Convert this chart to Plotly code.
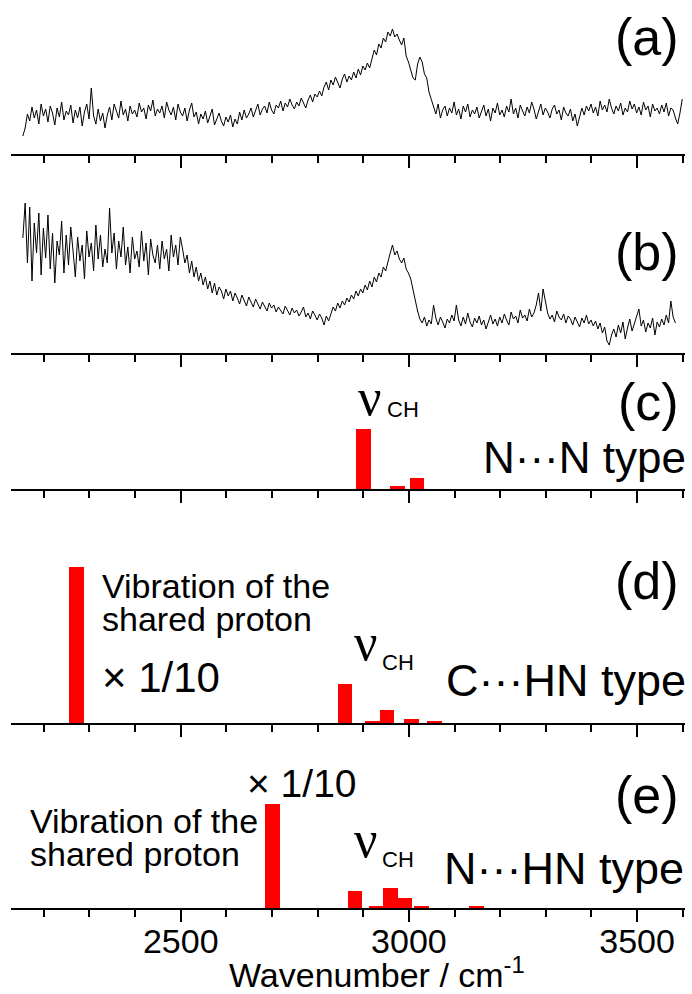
import plotly.graph_objects as go

# ---------------- data ----------------
WN_START = 2154
WN_STEP = 5

spec_a = [18, 26, 40, 33, 47, 36, 44, 30, 50, 38,
          45, 32, 48, 41, 29, 46, 37, 52, 34, 43,
          39, 49, 31, 44, 36, 47, 28, 42, 50, 35,
          66, 38, 30, 45, 33, 41, 26, 39, 47, 34,
          50, 42, 36, 53, 39, 45, 33, 48, 40, 44,
          37, 51, 42, 46, 35, 49, 43, 54, 38, 45,
          41, 48, 36, 52, 44, 39, 47, 34, 50, 42,
          38, 46, 33, 44, 51, 37, 42, 30, 40, 35,
          43, 31, 38, 45, 29, 36, 41, 33, 28, 37,
          32, 39, 27, 35, 30, 42, 34, 44, 36, 40,
          46, 37, 43, 50, 39, 45, 48, 41, 52, 44,
          40, 49, 46, 53, 43, 51, 47, 55, 49, 45,
          52, 48, 56, 50, 46, 54, 59, 52, 60, 57,
          63, 58, 67, 72, 64, 74, 69, 77, 71, 66,
          75, 80, 72, 78, 74, 82, 76, 85, 79, 88,
          84, 91, 86, 95, 104, 99, 110, 106, 116, 112,
          122, 118, 125, 117, 120, 114, 109, 116, 98, 92,
          84, 76, 74, 90, 97, 92, 80, 76, 62, 54,
          46, 40, 50, 36, 44, 48, 38, 46, 41, 52,
          39, 45, 35, 48, 42, 50, 37, 44, 40, 47,
          36, 43, 49, 38, 45, 33, 46, 41, 51, 39,
          44, 37, 48, 42, 55, 40, 46, 36, 49, 43,
          38, 47, 41, 52, 45, 35, 44, 50, 39, 46,
          42, 36, 45, 49, 40, 44, 34, 47, 41, 38,
          45, 33, 40, 28, 37, 46, 39, 48, 43, 50,
          41, 47, 38, 53, 44, 49, 42, 55, 46, 40,
          48, 43, 51, 39, 46, 42, 53, 45, 50, 41,
          47, 39, 52, 44, 48, 37, 50, 43, 46, 40,
          49, 42, 51, 38, 46, 44, 36, 30, 41, 55]

spec_b = [115, 150, 90, 146, 72, 130, 100, 140, 78, 125,
          95, 138, 84, 120, 70, 112, 98, 132, 80, 118,
          88, 126, 102, 76, 116, 92, 108, 74, 122, 96,
          110, 82, 128, 94, 118, 86, 104, 90, 145, 100,
          120, 84, 112, 96, 126, 88, 106, 80, 116, 94,
          102, 86, 122, 92, 110, 78, 114, 98, 90, 108,
          84, 112, 94, 104, 82, 118, 96, 108, 88, 116,
          104, 90, 98, 80, 92, 76, 86, 72, 80, 68,
          76, 64, 72, 60, 70, 58, 66, 62, 54, 64,
          57, 62, 52, 60, 55, 49, 58, 53, 47, 56,
          50, 46, 54, 48, 44, 51, 47, 42, 50, 45,
          48, 41, 46, 43, 39, 47, 42, 38, 45, 40,
          43, 37, 41, 46, 36, 40, 34, 42, 38, 33,
          39, 35, 28, 37, 32, 40, 46, 42, 50, 45,
          52, 48, 55, 51, 58, 54, 62, 57, 64, 60,
          68, 63, 72, 66, 76, 71, 80, 76, 86, 82,
          92, 100, 108, 98, 102, 94, 90, 95, 84, 80,
          74, 62, 50, 42, 34, 30, 36, 27, 33, 29,
          48, 35, 28, 36, 31, 25, 34, 30, 38, 32,
          48, 33, 27, 36, 29, 40, 31, 26, 35, 30,
          37, 28, 33, 24, 31, 38, 29, 34, 27, 36,
          30, 39, 33, 28, 41, 34, 37, 30, 43, 35,
          38, 32, 44, 36, 40, 48, 60, 42, 64, 50,
          40, 34, 38, 31, 42, 36, 33, 39, 30, 37,
          34, 28, 36, 31, 26, 35, 30, 38, 29, 33,
          27, 32, 24, 30, 20, 26, 12, 8, 18, 24,
          16, 28, 20, 31, 14, 25, 34, 22, 29, 38,
          44, 27, 33, 21, 30, 25, 35, 18, 31, 26,
          34, 28, 38, 30, 52, 36, 30]

bars_c_pos = [2900, 2975, 3018]
bars_c_h = [60, 3, 11]

bars_d_pos = [2272, 2860, 2920, 2952, 3005, 3056]
bars_d_h = [156, 39, 1.5, 13, 4, 2]

bars_e_pos = [2701, 2882, 2928, 2960, 2990, 3028, 3148]
bars_e_h = [104, 17, 2, 20, 10, 1.5, 1.2]

major_ticks = [2500, 3000, 3500]
major_labels = ["2500", "3000", "3500"]

panel_letters = ["(a)", "(b)", "(c)", "(d)", "(e)"]

# ---------------- layout constants (pixels) ----------------
W, H = 692, 994
L, R, T, B = 11, 7, 0, 86
PW = W - L - R
PH = H - T - B
XR = [2128, 3605]
# (top, bottom) pixel of each panel
panels = [(0, 154), (180, 353), (375, 489), (510, 723), (745, 908)]

FONT = "Arial, Liberation Sans, sans-serif"
SERIF = "Liberation Serif, Times New Roman, serif"


def fx(p):
    return (p - L) / PW


def fy(p):
    return (T + PH - p) / PH


fig = go.Figure()

xs_a = [WN_START + WN_STEP * i for i in range(len(spec_a))]
xs_b = [WN_START + WN_STEP * i for i in range(len(spec_b))]

fig.add_trace(go.Scatter(x=xs_a, y=spec_a, mode="lines",
                         line=dict(color="black", width=1.0),
                         xaxis="x", yaxis="y", showlegend=False))
fig.add_trace(go.Scatter(x=xs_b, y=spec_b, mode="lines",
                         line=dict(color="black", width=1.0),
                         xaxis="x2", yaxis="y2", showlegend=False))
for pos, hh, k in [(bars_c_pos, bars_c_h, 3), (bars_d_pos, bars_d_h, 4),
                   (bars_e_pos, bars_e_h, 5)]:
    fig.add_trace(go.Bar(x=pos, y=hh, width=32, marker=dict(color="#ff0000", line=dict(width=0)),
                         xaxis=f"x{k}", yaxis=f"y{k}", showlegend=False))

layout = dict(width=W, height=H, margin=dict(l=L, r=R, t=T, b=B),
              paper_bgcolor="white", plot_bgcolor="white",
              showlegend=False, bargap=0, font=dict(family=FONT, color="black"))

for i, (top, bot) in enumerate(panels):
    k = "" if i == 0 else str(i + 1)
    last = i == len(panels) - 1
    layout[f"xaxis{k}"] = dict(
        domain=[0, 1], anchor=f"y{k}", range=XR,
        showline=True, linewidth=2, linecolor="black",
        ticks="outside", ticklen=12, tickwidth=2, tickcolor="black",
        tickvals=major_ticks, ticktext=major_labels,
        showticklabels=last, tickfont=dict(size=34, family=FONT, color="black"),
        ticklabelstandoff=-10,
        minor=dict(dtick=100, tick0=2100, ticks="outside", ticklen=7, tickwidth=2, tickcolor="black",
                   showgrid=False),
        showgrid=False, zeroline=False, fixedrange=True)
    layout[f"yaxis{k}"] = dict(domain=[fy(bot), fy(top)], anchor=f"x{k}",
                               range=[0, bot - top], visible=False, fixedrange=True)

fig.update_layout(**layout)

ann = []


def add(text, x, y, size, xanchor="left", family=FONT):
    ann.append(dict(text=text, x=fx(x), y=fy(y), xref="paper", yref="paper",
                    xanchor=xanchor, yanchor="middle", showarrow=False,
                    font=dict(size=size, family=family, color="black")))


# panel letters (right aligned)
letter_y = [37, 252, 402, 581, 795]
for lt, yy in zip(panel_letters, letter_y):
    add(lt, 681, yy, 52, xanchor="right")

# nu_CH labels
for (nx, ny, cx, cy) in [(356, 397, 385, 410), (352, 642, 380, 662), (352, 839, 380, 859)]:
    add("ν", nx, ny, 52, family=SERIF)
    add("CH", cx, cy, 22)

add("N···N type", 688, 457, 44, xanchor="right")
add("C···HN type", 688, 680, 45, xanchor="right")
add("N···HN type", 686, 868, 45, xanchor="right")

add("Vibration of the", 100, 586, 34)
add("shared proton", 100, 619, 34)
add("× 1/10", 100, 678, 42)

add("Vibration of the", 28, 821, 34)
add("shared proton", 28, 854, 34)
add("× 1/10", 245, 783, 39)

add("Wavenumber / cm<sup>-1</sup>", 377, 972, 34, xanchor="center")

fig.update_layout(annotations=ann)
fig.write_html("out.html", config={"displayModeBar": False},
               post_script="document.body.style.margin='0';document.body.style.padding='0';")
